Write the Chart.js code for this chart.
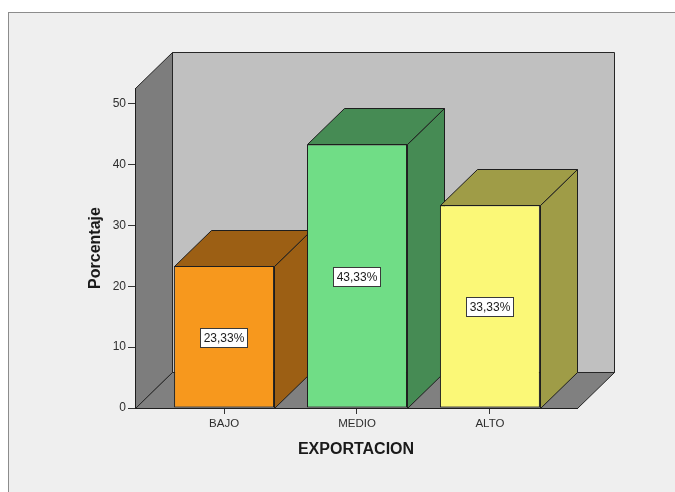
<!DOCTYPE html>
<html>
<head>
<meta charset="utf-8">
<script src="https://cdn.jsdelivr.net/npm/chart.js@4/dist/chart.umd.min.js"></script>
<style>
  html, body { margin: 0; padding: 0; background: #ffffff; overflow: hidden; }
  canvas { display: block; }
</style>
</head>
<body>
<canvas id="chart" width="675" height="492"></canvas>
<script>
// Percentage of cases per export level
const categories = ['BAJO', 'MEDIO', 'ALTO'];
const percentages = [23.33, 43.33, 33.33];
const yTickValues = [0, 10, 20, 30, 40, 50];
const xTitle = 'EXPORTACION';
const yTitle = 'Porcentaje';

// Face colours: front face, and the darker side/top faces
const frontColors = ['#f7981d', '#70dd86', '#fbf877'];
const shadeColors = ['#9c5f14', '#468b54', '#9f9c47'];

// 3D extrusion offset (pixels)
const DEPTH_X = 37;
const DEPTH_Y = -36;

const FONT = '"Liberation Sans", Arial, sans-serif';

function formatPct(v) {
  return v.toFixed(2).replace('.', ',') + '%';
}

function poly(ctx, pts, fill, stroke) {
  ctx.beginPath();
  ctx.moveTo(pts[0][0], pts[0][1]);
  for (let i = 1; i < pts.length; i++) ctx.lineTo(pts[i][0], pts[i][1]);
  ctx.closePath();
  ctx.fillStyle = fill;
  ctx.fill();
  ctx.strokeStyle = stroke;
  ctx.lineWidth = 1;
  ctx.stroke();
}

const box3d = {
  id: 'box3d',
  beforeDraw(chart) {
    const ctx = chart.ctx;
    const a = chart.chartArea;
    ctx.save();
    // page and panel
    ctx.fillStyle = '#ffffff';
    ctx.fillRect(0, 0, chart.width, chart.height);
    ctx.fillStyle = '#efefef';
    ctx.fillRect(8.5, 12.5, chart.width, chart.height);
    ctx.strokeStyle = '#8c8c8c';
    ctx.lineWidth = 1;
    ctx.strokeRect(8.5, 12.5, chart.width, chart.height);

    const L = Math.round(a.left) + 0.5, R = Math.round(a.right) + 0.5;
    const T = Math.round(a.top) + 0.5, B = Math.round(a.bottom) + 0.5;
    // back wall
    poly(ctx, [[L + DEPTH_X, T + DEPTH_Y], [R + DEPTH_X, T + DEPTH_Y],
               [R + DEPTH_X, B + DEPTH_Y], [L + DEPTH_X, B + DEPTH_Y]], '#c0c0c0', '#262626');
    // left wall
    poly(ctx, [[L, T], [L + DEPTH_X, T + DEPTH_Y], [L + DEPTH_X, B + DEPTH_Y], [L, B]], '#7d7d7d', '#262626');
    // floor
    poly(ctx, [[L, B], [L + DEPTH_X, B + DEPTH_Y], [R + DEPTH_X, B + DEPTH_Y], [R, B]], '#808080', '#262626');
    ctx.restore();
  },
  beforeDatasetsDraw(chart) {
    const ctx = chart.ctx;
    const meta = chart.getDatasetMeta(0);
    ctx.save();
    meta.data.forEach((bar, i) => {
      const p = bar.getProps(['x', 'y', 'base', 'width'], true);
      const l = Math.round(p.x - p.width / 2) + 0.5;
      const r = Math.round(p.x + p.width / 2) + 0.5;
      const t = Math.round(p.y) + 0.5;
      const b = Math.round(p.base) + 0.5;
      // side face
      poly(ctx, [[r, b], [r + DEPTH_X, b + DEPTH_Y], [r + DEPTH_X, t + DEPTH_Y], [r, t]], shadeColors[i], '#1e1e1e');
      // top face
      poly(ctx, [[l, t], [l + DEPTH_X, t + DEPTH_Y], [r + DEPTH_X, t + DEPTH_Y], [r, t]], shadeColors[i], '#1e1e1e');
    });
    ctx.restore();
  },
  afterDatasetsDraw(chart) {
    const ctx = chart.ctx;
    const meta = chart.getDatasetMeta(0);
    ctx.save();
    ctx.font = '12px ' + FONT;
    ctx.textAlign = 'center';
    ctx.textBaseline = 'middle';
    meta.data.forEach((bar, i) => {
      const p = bar.getProps(['x', 'y', 'base'], true);
      const text = formatPct(percentages[i]);
      const w = Math.round(ctx.measureText(text).width) + 6;
      const h = 19;
      const cx = Math.round(p.x);
      const cy = Math.round((p.y + p.base) / 2) + 1;
      const bx = cx - Math.round(w / 2) + 0.5;
      const by = cy - Math.round(h / 2) + 0.5;
      ctx.fillStyle = '#ffffff';
      ctx.fillRect(bx, by, w, h);
      ctx.strokeStyle = '#3a3a3a';
      ctx.lineWidth = 1;
      ctx.strokeRect(bx, by, w, h);
      ctx.fillStyle = '#1a1a1a';
      ctx.fillText(text, cx, cy + 1);
    });
    ctx.restore();
  }
};

new Chart(document.getElementById('chart'), {
  type: 'bar',
  data: {
    datasets: [{
      data: percentages.map((v, i) => ({ x: i, y: v })),
      backgroundColor: frontColors,
      borderColor: '#1e1e1e',
      borderWidth: 1,
      borderSkipped: false,
      barPercentage: 1,
      categoryPercentage: 0.752
    }]
  },
  options: {
    responsive: false,
    animation: false,
    layout: { padding: { left: 0, top: 88, right: 98, bottom: 0 } },
    plugins: { legend: { display: false }, tooltip: { enabled: false } },
    scales: {
      x: {
        type: 'linear',
        offset: false,
        min: -0.67,
        max: 2.655,
        afterBuildTicks(scale) { scale.ticks = categories.map((c, i) => ({ value: i })); },
        afterFit(scale) { scale.height = 84; },
        grid: { offset: false, drawOnChartArea: false, drawTicks: true, tickLength: 6, color: '#333333' },
        border: { color: '#1e1e1e', width: 1 },
        ticks: {
          callback: (v) => categories[v],
          color: '#2e2e2e',
          padding: 3,
          maxRotation: 0,
          font: { family: FONT, size: 11.5 }
        },
        title: {
          display: true,
          text: xTitle,
          color: '#1a1a1a',
          padding: { top: 0, bottom: 33 },
          font: { family: FONT, size: 16, weight: 'bold' }
        }
      },
      y: {
        min: 0,
        max: 52.6,
        afterBuildTicks(scale) { scale.ticks = yTickValues.map(v => ({ value: v })); },
        afterFit(scale) { scale.width = 135; },
        grid: { drawOnChartArea: false, drawTicks: true, tickLength: 7, color: '#333333' },
        border: { color: '#1e1e1e', width: 1 },
        ticks: {
          color: '#2e2e2e',
          padding: 2,
          font: { family: FONT, size: 12 }
        },
        title: {
          display: true,
          text: yTitle,
          color: '#1a1a1a',
          padding: { top: 86, bottom: 0 },
          font: { family: FONT, size: 16, weight: 'bold' }
        }
      }
    }
  },
  plugins: [box3d]
});
</script>
</body>
</html>
